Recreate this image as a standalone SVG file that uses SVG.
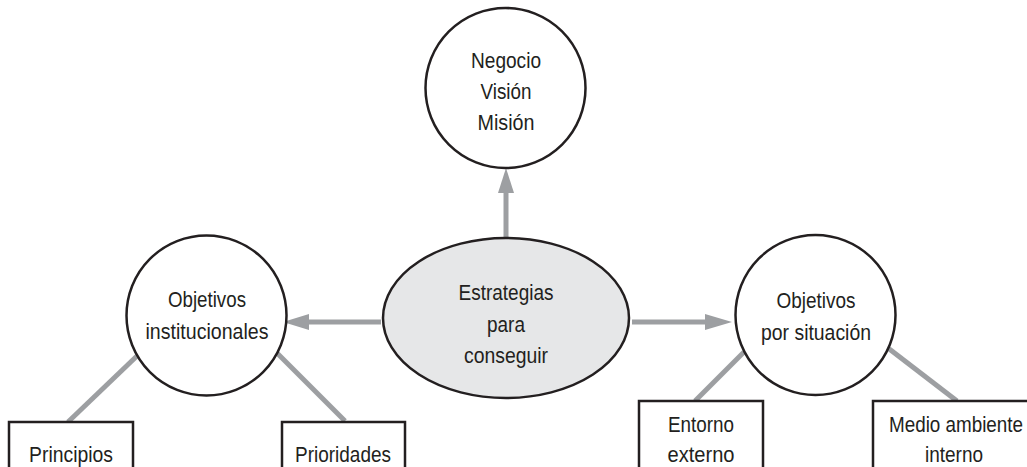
<svg xmlns="http://www.w3.org/2000/svg" width="1027" height="467" viewBox="0 0 1027 467">
<style>
.node{fill:#fff;stroke:#231f20;stroke-width:2.5}
.core{fill:#e6e7e8;stroke:#231f20;stroke-width:2.5}
.t{font-family:"Liberation Sans",Arial,sans-serif;font-size:22px;fill:#231f20;text-anchor:middle}
.c{stroke:#9d9fa2;stroke-width:5;fill:none}
.h{fill:#9d9fa2}
</style>
<rect width="1027" height="467" fill="#fff"/>
<g id="connectors">
<line class="c" x1="506" y1="237" x2="506" y2="190"/>
<polygon class="h" points="506,168 498,193 514,193"/>
<line class="c" x1="381" y1="322" x2="306" y2="322"/>
<polygon class="h" points="283,322 309,314 309,330"/>
<line class="c" x1="632" y1="322" x2="708" y2="322"/>
<polygon class="h" points="732,322 705,314 705,330"/>
<line class="c" x1="68" y1="422" x2="138" y2="355"/>
<line class="c" x1="345" y1="421" x2="277" y2="353"/>
<line class="c" x1="695" y1="401" x2="744" y2="352"/>
<line class="c" x1="957" y1="401" x2="888" y2="348"/>
</g>
<g id="negocio">
<circle class="node" cx="505.5" cy="88" r="80"/>
<text class="t" x="506" y="68" textLength="70" lengthAdjust="spacingAndGlyphs">Negocio</text>
<text class="t" x="506" y="99" textLength="51" lengthAdjust="spacingAndGlyphs">Visión</text>
<text class="t" x="506" y="130" textLength="57" lengthAdjust="spacingAndGlyphs">Misión</text>
</g>
<g id="estrategias">
<ellipse class="core" cx="506" cy="318" rx="123" ry="80"/>
<text class="t" x="506" y="300" textLength="95" lengthAdjust="spacingAndGlyphs">Estrategias</text>
<text class="t" x="506" y="332" textLength="38" lengthAdjust="spacingAndGlyphs">para</text>
<text class="t" x="506" y="363" textLength="84" lengthAdjust="spacingAndGlyphs">conseguir</text>
</g>
<g id="obj-inst">
<circle class="node" cx="206.5" cy="315.5" r="80"/>
<text class="t" x="207" y="307" textLength="78" lengthAdjust="spacingAndGlyphs">Objetivos</text>
<text class="t" x="207" y="339" textLength="123" lengthAdjust="spacingAndGlyphs">institucionales</text>
</g>
<g id="obj-sit">
<circle class="node" cx="815.5" cy="315" r="80"/>
<text class="t" x="816" y="308" textLength="79" lengthAdjust="spacingAndGlyphs">Objetivos</text>
<text class="t" x="816" y="340" textLength="110" lengthAdjust="spacingAndGlyphs">por situación</text>
</g>
<g id="principios">
<rect class="node" x="9" y="422" width="124" height="60"/>
<text class="t" x="71" y="462" textLength="84" lengthAdjust="spacingAndGlyphs">Principios</text>
</g>
<g id="prioridades">
<rect class="node" x="282" y="422" width="123" height="60"/>
<text class="t" x="343" y="462" textLength="96" lengthAdjust="spacingAndGlyphs">Prioridades</text>
</g>
<g id="entorno">
<rect class="node" x="639" y="401" width="124" height="80"/>
<text class="t" x="701" y="432" textLength="66" lengthAdjust="spacingAndGlyphs">Entorno</text>
<text class="t" x="701" y="462" textLength="67" lengthAdjust="spacingAndGlyphs">externo</text>
</g>
<g id="medio">
<rect class="node" x="873" y="401" width="166" height="80"/>
<text class="t" x="956" y="432" textLength="134" lengthAdjust="spacingAndGlyphs">Medio ambiente</text>
<text class="t" x="954" y="462" textLength="58" lengthAdjust="spacingAndGlyphs">interno</text>
</g>
</svg>
